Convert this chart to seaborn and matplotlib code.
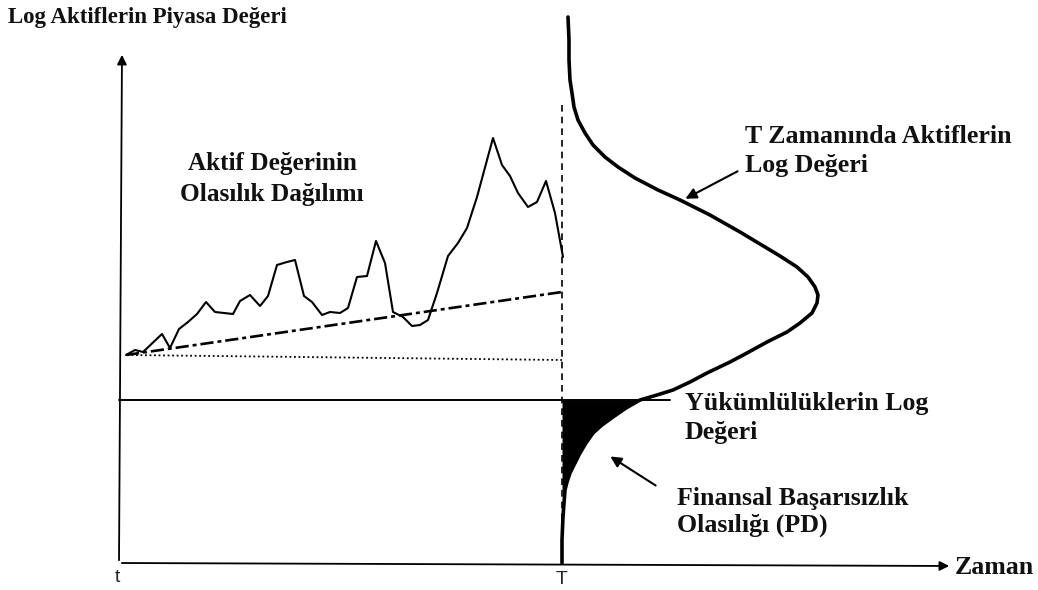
import numpy as np
import matplotlib
matplotlib.use('Agg')
import matplotlib.pyplot as plt
import seaborn as sns

sns.set_style('white')
plt.rcParams['font.family'] = ['Liberation Serif', 'DejaVu Serif']

# asset value path (pixel units, y grows downward)
path_x = [126, 135, 143, 162, 170, 179, 188, 197, 206, 215, 233, 240, 250, 260, 268, 277,
          287, 295, 304, 312, 322, 330, 340, 348, 357, 367, 376, 385, 393, 403, 412, 420,
          428, 437, 448, 458, 467, 477, 493, 502, 510, 518, 528, 537, 546, 555, 563]
path_y = [355, 350, 352, 334, 348, 329, 322, 314, 302, 312, 314, 301, 295, 306, 296, 265,
          262, 260, 296, 302, 315, 312, 313, 308, 277, 276, 241, 263, 312, 317, 326, 325,
          320, 293, 256, 243, 228, 197, 138, 165, 176, 193, 207, 202, 181, 213, 257]

# expected drift line and starting level
trend_x = [126, 562]
trend_y = [355, 292]
start_x = [127, 562]
start_y = [355, 360]

# distribution of log asset value at T
dist_x = [568, 569, 569, 570, 572, 574, 578, 585, 593, 605, 618, 635, 658, 680, 710, 740,
          760, 780, 797, 808, 815, 818, 817, 812, 800, 787, 767, 747, 730, 707, 690, 673,
          657, 640, 626, 613, 602, 593, 586, 580, 575, 570, 567, 565, 564, 563, 562, 562]
dist_y = [17, 40, 60, 80, 93, 107, 120, 133, 145, 157, 167, 178, 190, 200, 215, 232,
          244, 256, 267, 277, 287, 295, 303, 313, 323, 332, 342, 353, 362, 373, 382, 390,
          395, 400, 408, 417, 425, 433, 443, 453, 463, 473, 482, 490, 503, 517, 540, 563]

liab_y = 400
t0_x, T_x = 119, 562
axis_y = 563

fig = plt.figure(figsize=(10.38, 5.90), dpi=100)
ax = fig.add_axes([0, 0, 1, 1])
ax.set_xlim(0, 1038)
ax.set_ylim(590, 0)
ax.axis('off')

# axes arrows
ax.annotate('', xy=(t0_x + 3, 52), xytext=(t0_x, axis_y),
            arrowprops=dict(arrowstyle='-|>', color='black', lw=1.3, mutation_scale=14))
ax.annotate('', xy=(952, axis_y + 3), xytext=(t0_x, axis_y),
            arrowprops=dict(arrowstyle='-|>', color='black', lw=1.3, mutation_scale=14))

# liabilities line + T marker
ax.plot([t0_x, 670], [liab_y, liab_y], color='black', lw=1.4)
ax.plot([T_x, T_x], [105, axis_y], color='black', lw=1.2, ls=(0, (4, 3)))

sns.lineplot(x=trend_x, y=trend_y, color='black', lw=1.9, ls=(0, (5, 1.5, 1.5, 1.5)), ax=ax)
sns.lineplot(x=start_x, y=start_y, color='black', lw=1.3, ls=(0, (1, 1.5)), ax=ax)
sns.lineplot(x=path_x, y=path_y, sort=False, estimator=None, color='black', lw=1.5,
             solid_joinstyle='round', ax=ax)
sns.lineplot(x=dist_x, y=dist_y, sort=False, estimator=None, color='black', lw=2.6,
             solid_joinstyle='round', solid_capstyle='round', ax=ax)

# default probability area (tail below the liabilities line)
dx = np.array(dist_x)
dy = np.array(dist_y)
tail = (dy >= liab_y) & (dy <= 495)
ax.fill_betweenx(dy[tail], T_x, dx[tail], color='black', lw=0)

txt = dict(fontsize=18.6, fontweight='bold', color='#111111')
ax.text(8, 17, 'Log Aktiflerin Piyasa Değeri', ha='left', va='center',
        **dict(txt, fontsize=16.5))
ax.text(272, 179, 'Aktif Değerinin\nOlasılık Dağılımı', ha='center', va='center',
        linespacing=1.45, **dict(txt, fontsize=18.2))
ax.text(745, 151, 'T Zamanında Aktiflerin\nLog Değeri', ha='left', va='center',
        linespacing=1.28, **txt)
ax.text(685, 418, 'Yükümlülüklerin Log\nDeğeri', ha='left', va='center',
        linespacing=1.35, **txt)
ax.text(677, 512, 'Finansal Başarısızlık\nOlasılığı (PD)', ha='left', va='center',
        linespacing=1.2, **txt)
ax.text(955, 568, 'Zaman', ha='left', va='center', **txt)
ax.text(t0_x - 2, 578, 't', ha='center', va='center', fontsize=14,
        family=['Liberation Sans', 'DejaVu Sans'])
ax.text(T_x, 580, 'T', ha='center', va='center', fontsize=14,
        family=['Liberation Sans', 'DejaVu Sans'])

# pointer arrows
ax.annotate('', xy=(683, 200), xytext=(740, 170),
            arrowprops=dict(arrowstyle='-|>', color='black', lw=1.5, mutation_scale=16))
ax.annotate('', xy=(608, 455), xytext=(658, 487),
            arrowprops=dict(arrowstyle='-|>', color='black', lw=1.5, mutation_scale=16))

fig.savefig('out.png', dpi=100)
